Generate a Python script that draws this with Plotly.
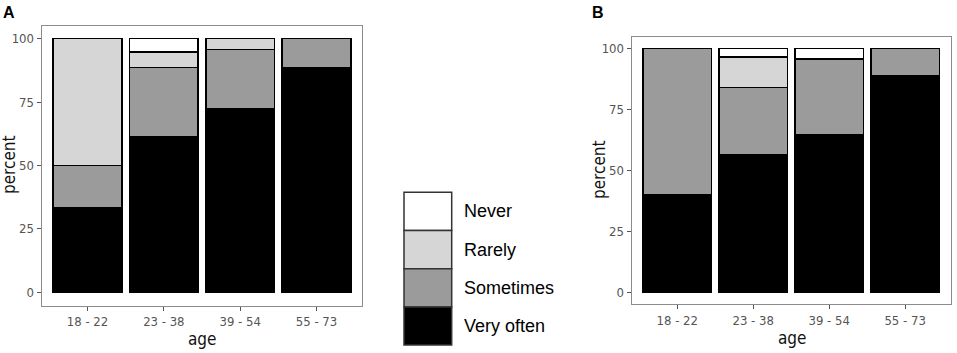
import plotly.graph_objects as go

categories = ["18 - 22", "23 - 38", "39 - 54", "55 - 73"]
responses = ["Very often", "Sometimes", "Rarely", "Never"]
colors = {"Never": "#ffffff", "Rarely": "#d6d6d6", "Sometimes": "#9b9b9b", "Very often": "#000000"}

a_very_often = [33.3, 61.3, 72.5, 88.5]
a_sometimes = [16.7, 27.4, 23.3, 11.5]
a_rarely = [50.0, 6.0, 4.2, 0.0]
a_never = [0.0, 5.3, 0.0, 0.0]

b_very_often = [40.2, 56.5, 64.5, 88.9]
b_sometimes = [59.8, 27.5, 31.1, 11.1]
b_rarely = [0.0, 12.5, 0.0, 0.0]
b_never = [0.0, 3.5, 4.4, 0.0]

y_ticks = [0, 25, 50, 75, 100]

panel_a = dict(zip(responses, [a_very_often, a_sometimes, a_rarely, a_never]))
panel_b = dict(zip(responses, [b_very_often, b_sometimes, b_rarely, b_never]))

W, H = 957, 353
def px(x):
    return x / W
def py(y):
    return 1 - y / H

fig = go.Figure()
for resp in responses:
    fig.add_trace(go.Bar(x=categories, y=panel_a[resp], name=resp, xaxis="x", yaxis="y",
                         marker=dict(color=colors[resp], line=dict(color="#000000", width=1.4)),
                         showlegend=False))
for resp in responses:
    fig.add_trace(go.Bar(x=categories, y=panel_b[resp], name=resp, xaxis="x2", yaxis="y2",
                         marker=dict(color=colors[resp], line=dict(color="#000000", width=1.4)),
                         showlegend=False))

narrow = "DejaVu Sans Condensed, Liberation Sans Narrow, Liberation Sans, Arial"
tickfont = dict(family=narrow, size=13, color="#555555")
axis_common = dict(showline=True, mirror=True, linecolor="#8c8c8c", linewidth=1.2,
                   ticks="outside", ticklen=4, tickcolor="#555555", tickwidth=1,
                   showgrid=False, zeroline=False, tickfont=tickfont)

fig.update_layout(
    width=W, height=H,
    margin=dict(l=0, r=0, t=0, b=0),
    paper_bgcolor="white", plot_bgcolor="white",
    barmode="stack", bargap=0.1,
    xaxis=dict(domain=[px(41.7), px(362.3)], anchor="y", range=[-0.6, 3.6], **axis_common),
    yaxis=dict(domain=[py(305.7), py(25.7)], anchor="x", range=[-5.3, 105.1],
               tickvals=y_ticks, **axis_common),
    xaxis2=dict(domain=[px(631.7), px(950.7)], anchor="y2", range=[-0.6, 3.6], **axis_common),
    yaxis2=dict(domain=[py(304.3), py(36.7)], anchor="x2", range=[-4.9, 104.75],
                tickvals=y_ticks, **axis_common),
)

title_font = dict(family=narrow, size=17, color="#111111")
ann = [
    dict(text="<b>A</b>", x=px(1), y=py(2), xanchor="left", yanchor="top",
         font=dict(family="Liberation Sans, Arial", size=16, color="#000")),
    dict(text="<b>B</b>", x=px(590), y=py(2), xanchor="left", yanchor="top",
         font=dict(family="Liberation Sans, Arial", size=16, color="#000")),
    dict(text="percent", x=px(9), y=py(165), textangle=-90, xanchor="center", yanchor="middle", font=title_font),
    dict(text="age", x=px(202), y=py(339), xanchor="center", yanchor="middle", font=title_font),
    dict(text="percent", x=px(599), y=py(170), textangle=-90, xanchor="center", yanchor="middle", font=title_font),
    dict(text="age", x=px(792), y=py(338), xanchor="center", yanchor="middle", font=title_font),
]

# manual legend
legend_order = ["Never", "Rarely", "Sometimes", "Very often"]
key_top = 192.3
key_h = 38.2
shapes = []
for i, resp in enumerate(legend_order):
    y0 = key_top + i * key_h
    y1 = y0 + key_h
    shapes.append(dict(type="rect", xref="paper", yref="paper",
                       x0=px(404), x1=px(451.7), y0=py(y1), y1=py(y0),
                       fillcolor=colors[resp], line=dict(color="#333333", width=1.5)))
    ann.append(dict(text=resp, x=px(462), y=py((y0 + y1) / 2), xanchor="left", yanchor="middle",
                    font=dict(family="Liberation Sans, Arial", size=18, color="#000")))

for a in ann:
    a.update(xref="paper", yref="paper", showarrow=False)

fig.update_layout(annotations=ann, shapes=shapes)
fig.write_html("out.html", config={"displayModeBar": False},
               post_script="document.body.style.margin='0';document.body.style.padding='0';document.body.style.overflow='hidden';")
